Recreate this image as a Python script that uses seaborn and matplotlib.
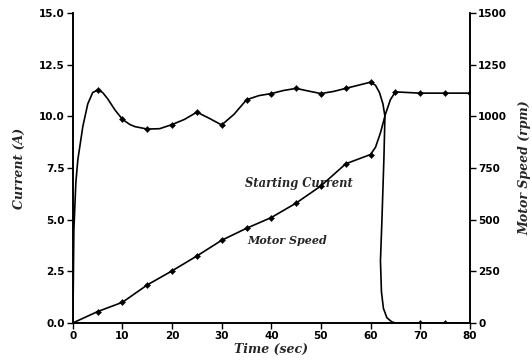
import pandas as pd
import matplotlib
matplotlib.use('Agg')
import matplotlib.pyplot as plt
import seaborn as sns

# Starting current (A) (includes the points along the curve)
cur_time = [0, 0.2, 0.6, 1.0, 2.0, 3.0, 4.0, 5.0, 6.0, 7.0, 8.5, 10, 11.5, 12.5, 15, 17.5, 20, 22.5, 25,
            27.5, 30, 32.5, 35, 37.5, 40, 42.5, 45, 47.5, 50, 52.5, 55, 57.5, 60,
            61.0, 61.8, 62.5, 62.9, 62.7, 62.3, 62.0, 62.2, 62.6, 63.3, 64.3, 65, 70, 75, 80]
cur_amps = [0, 4.5, 6.8, 7.9, 9.5, 10.6, 11.15, 11.27, 11.15, 10.85, 10.3, 9.85, 9.6, 9.5, 9.38, 9.4, 9.6,
            9.85, 10.2, 9.9, 9.58, 10.1, 10.8, 11.0, 11.1, 11.25, 11.35, 11.22, 11.1, 11.2, 11.35, 11.5,
            11.65, 11.5, 11.15, 10.6, 10.0, 8.0, 5.0, 3.0, 1.5, 0.7, 0.25, 0.05, 0, 0, 0, 0]
cur_mark_t = [5, 10, 15, 20, 25, 30, 35, 40, 45, 50, 55, 60, 70, 75]
cur_mark_a = [11.27, 9.87, 9.38, 9.6, 10.2, 9.58, 10.8, 11.1, 11.35, 11.1, 11.35, 11.65, 0, 0]

# Motor speed (rpm)
spd_time = [0, 5, 10, 15, 20, 25, 30, 35, 40, 45, 50, 55, 60, 61, 62, 63, 64, 65, 70, 75, 80]
spd_rpm = [0, 55, 100, 184, 252, 324, 400, 458, 510, 580, 663, 770, 815, 850, 920, 1010, 1080, 1118,
           1112, 1112, 1112]
spd_mark_t = [5, 10, 15, 20, 25, 30, 35, 40, 45, 50, 55, 60, 65, 70, 75, 80]
spd_mark_r = [55, 100, 184, 252, 324, 400, 458, 510, 580, 663, 770, 815, 1118, 1112, 1112, 1112]

df_cur = pd.DataFrame({'t': cur_time, 'a': cur_amps})
df_cur_m = pd.DataFrame({'t': cur_mark_t, 'a': cur_mark_a})
df_spd = pd.DataFrame({'t': spd_time, 'rpm': spd_rpm})
df_spd_m = pd.DataFrame({'t': spd_mark_t, 'rpm': spd_mark_r})

sns.set_style('ticks')
plt.rcParams['font.family'] = ['DejaVu Sans']

fig = plt.figure(figsize=(5.32, 3.60), dpi=100)
ax = fig.add_axes([0.137, 0.103, 0.746, 0.861])
ax2 = ax.twinx()

sns.lineplot(data=df_cur, x='t', y='a', ax=ax, sort=False, estimator=None,
             color='black', linewidth=1.2)
sns.scatterplot(data=df_cur_m, x='t', y='a', ax=ax, marker='D', s=10,
                color='black', edgecolor='black', zorder=3)
sns.lineplot(data=df_spd, x='t', y='rpm', ax=ax2, color='black', linewidth=1.2)
sns.scatterplot(data=df_spd_m, x='t', y='rpm', ax=ax2, marker='D', s=10,
                color='black', edgecolor='black', zorder=3)

ax.set_xlim(0, 80)
ax.set_ylim(0, 15)
ax2.set_ylim(0, 1500)
ax.set_xticks(range(0, 81, 10))
ax.set_yticks([0, 2.5, 5, 7.5, 10, 12.5, 15])
ax.set_yticklabels(['0.0', '2.5', '5.0', '7.5', '10.0', '12.5', '15.0'])
ax2.set_yticks([0, 250, 500, 750, 1000, 1250, 1500])

for a in (ax, ax2):
    a.spines['top'].set_visible(False)
    for s in a.spines.values():
        s.set_linewidth(1.2)
        s.set_color('black')
    a.tick_params(axis='both', labelsize=7.5, width=1.0, length=4, colors='black', pad=2)
    for lab in a.get_xticklabels() + a.get_yticklabels():
        lab.set_fontweight('bold')

lab_font = dict(family='DejaVu Serif', style='italic', fontweight='bold')
ax.set_xlabel('Time (sec)', labelpad=1, fontsize=9, **lab_font)
ax.set_ylabel('Current (A)', labelpad=9, fontsize=9, **lab_font)
ax2.set_ylabel('Motor Speed (rpm)', labelpad=8, fontsize=9, **lab_font)

ax.text(34.7, 6.75, 'Starting Current', ha='left', va='center', fontsize=8.3, **lab_font)
ax.text(35.1, 4.0, 'Motor Speed', ha='left', va='center', fontsize=8, **lab_font)

fig.savefig('out.png', dpi=100)
